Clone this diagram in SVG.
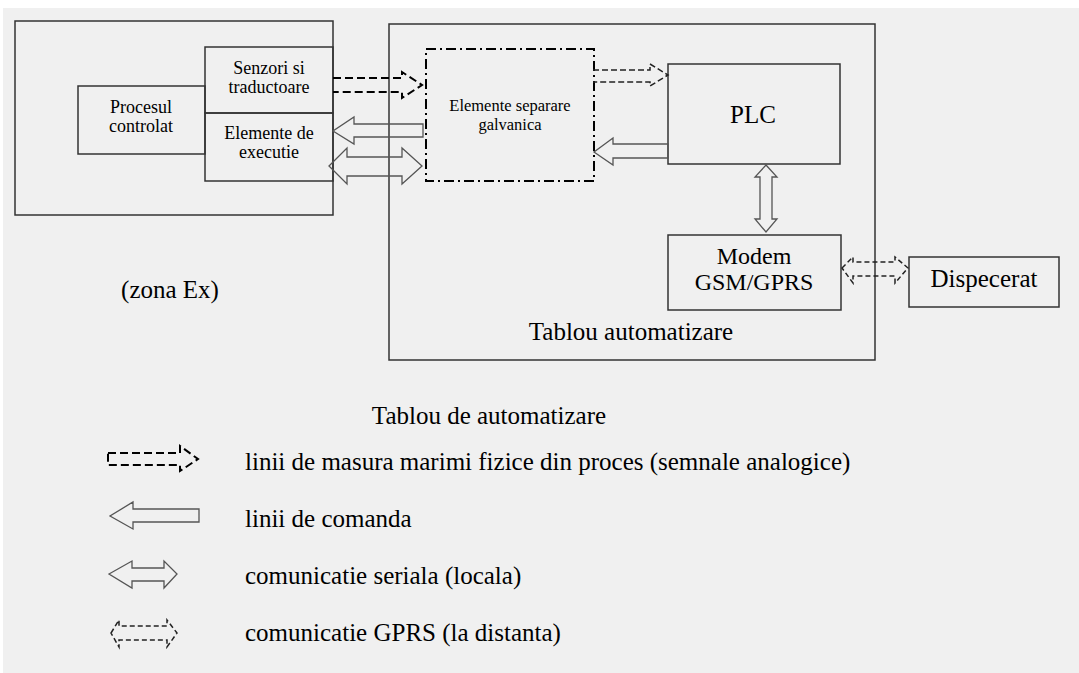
<svg xmlns="http://www.w3.org/2000/svg" width="1079" height="673" viewBox="0 0 1079 673">
<style>
text{font-family:"Liberation Serif","Times New Roman","DejaVu Serif",serif;fill:#000;text-anchor:middle}
.box{fill:none;stroke:#333;stroke-width:1.5}
.big{font-size:25px}
.md2{font-size:24px}
.mid{font-size:18px}
.sm{font-size:16.5px}
.lt{text-anchor:start}
.hollow{fill:none;stroke:#555;stroke-width:1.3}
.dash{fill:none;stroke:#000;stroke-width:2;stroke-dasharray:8,4}
.dash2{fill:none;stroke:#222;stroke-width:1.5;stroke-dasharray:6,3}
.dash3{fill:none;stroke:#222;stroke-width:1.5;stroke-dasharray:5,3}
</style>
<rect x="0" y="0" width="1079" height="673" fill="#fff"/>
<rect x="3" y="8" width="1076" height="665" fill="#f0f0f0"/>

<g id="zona-ex">
<rect class="box" x="15" y="21" width="318" height="194"/>
<text class="big" x="170" y="298">(zona Ex)</text>
</g>
<g id="procesul">
<rect class="box" x="78" y="86" width="127" height="68"/>
<text class="mid" x="141" y="113">Procesul</text>
<text class="mid" x="141" y="132">controlat</text>
</g>
<g id="senzori">
<rect class="box" x="205" y="47" width="128" height="66"/>
<text class="mid" x="269" y="74">Senzori si</text>
<text class="mid" x="269" y="93">traductoare</text>
</g>
<g id="executie">
<rect class="box" x="205" y="113" width="128" height="68"/>
<text class="mid" x="269" y="139">Elemente de</text>
<text class="mid" x="269" y="158">executie</text>
</g>
<g id="tablou">
<rect class="box" x="389" y="24" width="486" height="336"/>
<text class="big" x="631" y="340">Tablou automatizare</text>
</g>
<g id="separare">
<rect x="426" y="49" width="168" height="132" fill="none" stroke="#000" stroke-width="2" stroke-dasharray="10,4,2,4"/>
<text class="sm" x="510" y="111">Elemente separare</text>
<text class="sm" x="510" y="130">galvanica</text>
</g>
<g id="plc">
<rect class="box" x="668" y="64" width="172" height="100"/>
<text class="big" x="753" y="123">PLC</text>
</g>
<g id="modem">
<rect class="box" x="668" y="235" width="173" height="75"/>
<text class="md2" x="754" y="264">Modem</text>
<text class="md2" x="754" y="290">GSM/GPRS</text>
</g>
<g id="dispecerat">
<rect class="box" x="909" y="257" width="150" height="50"/>
<text class="big" x="984" y="287">Dispecerat</text>
</g>

<g id="connectors">
<path class="dash" d="M333,78 H402 V72 L422,85 L402,98 V92 H333"/>
<path class="hollow" d="M423,124 H354 V117 L333,131 L354,144 V137 H423 Z"/>
<path class="hollow" d="M329,166 L347,148 V157 H402 V148 L422,166 L402,184 V176 H347 V184 Z"/>
<path class="dash2" d="M593,70 H650 V64 L668,75 L650,86 V82 H593"/>
<path class="hollow" d="M668,144 H613 V138 L594,152 L613,165 V158 H668 Z"/>
<path class="hollow" d="M766,165 L777,177 H772 V219 H777 L766,232 L755,219 H760 V177 H755 Z"/>
<path class="dash3" d="M842,268 L853,257 V262 H895 V257 L908,268 L895,283 V276 H853 V283 Z"/>
</g>

<g id="legend">
<text class="big" x="489" y="424">Tablou de automatizare</text>
<path class="dash" d="M108,453 H180 V446 L198,459 L180,471 V465 H108 Z"/>
<text class="big lt" x="245" y="470">linii de masura marimi fizice din proces (semnale analogice)</text>
<path class="hollow" d="M199,509 H133 V502 L110,516 L133,529 V522 H199 Z"/>
<text class="big lt" x="245" y="527">linii de comanda</text>
<path class="hollow" d="M109,574 L132,561 V568 H164 V561 L177,574 L164,588 V581 H132 V588 Z"/>
<text class="big lt" x="245" y="584">comunicatie seriala (locala)</text>
<path class="dash3" d="M111,633 L119,620 V626 H167 V620 L177,633 L167,647 V640 H119 V647 Z"/>
<text class="big lt" x="245" y="641">comunicatie GPRS (la distanta)</text>
</g>
</svg>
